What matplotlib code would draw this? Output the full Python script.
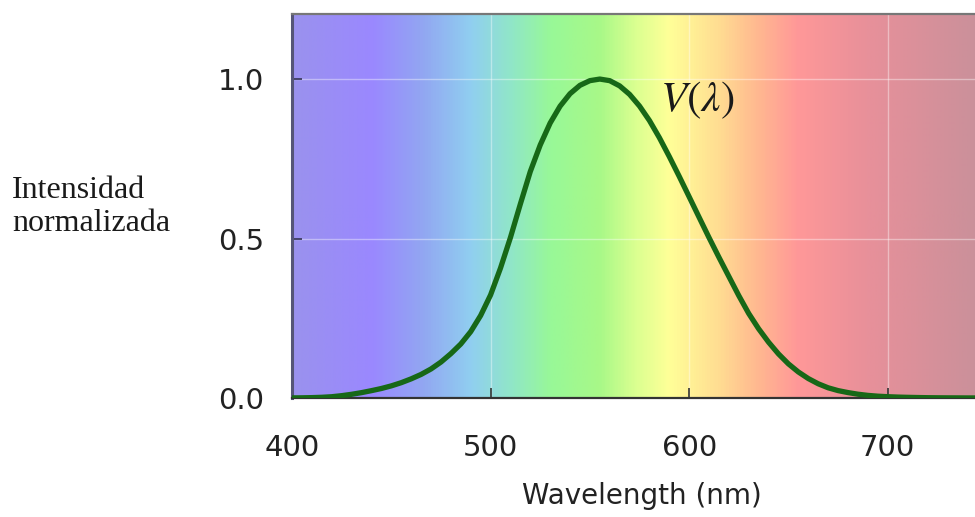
import numpy as np
import matplotlib
matplotlib.use("Agg")
import matplotlib.pyplot as plt
from matplotlib.colors import LinearSegmentedColormap

# CIE photopic luminosity function V(lambda), 5 nm steps
wl = [400, 405, 410, 415, 420, 425, 430, 435, 440, 445, 450, 455, 460, 465, 470,
      475, 480, 485, 490, 495, 500, 505, 510, 515, 520, 525, 530, 535, 540, 545,
      550, 555, 560, 565, 570, 575, 580, 585, 590, 595, 600, 605, 610, 615, 620,
      625, 630, 635, 640, 645, 650, 655, 660, 665, 670, 675, 680, 685, 690, 695,
      700, 705, 710, 715, 720, 725, 730, 735, 740, 745, 750]
v = [0.0004, 0.0006, 0.0012, 0.0022, 0.0040, 0.0073, 0.0116, 0.0168, 0.023, 0.0298,
     0.038, 0.048, 0.060, 0.0739, 0.091, 0.1126, 0.139, 0.1693, 0.208, 0.2586,
     0.323, 0.4073, 0.503, 0.6082, 0.710, 0.7932, 0.862, 0.9149, 0.954, 0.9803,
     0.995, 1.0, 0.995, 0.9786, 0.952, 0.9154, 0.870, 0.8163, 0.757, 0.6949,
     0.631, 0.5668, 0.503, 0.4412, 0.381, 0.321, 0.265, 0.217, 0.175, 0.1382,
     0.107, 0.0816, 0.061, 0.0446, 0.032, 0.0232, 0.017, 0.0119, 0.0082, 0.0057,
     0.0041, 0.0029, 0.0021, 0.0015, 0.0010, 0.0007, 0.0005, 0.0004, 0.0002, 0.0002, 0.0001]

xticks = [400, 500, 600, 700]
yticks = [0.0, 0.5, 1.0]
ytick_labels = ["0.0", "0.5", "1.0"]

# background spectrum colour stops (nm, colour)
stops_nm = [400, 440, 465, 490, 510, 530, 555, 572, 590, 615, 635, 655, 690, 750]
stops_col = ["#9a92ee", "#9a88ff", "#92a6f2", "#90cff0", "#90e6c8", "#98f898", "#a8f888",
             "#d8ff90", "#ffff98", "#ffdd92", "#ffb890", "#ff9898", "#e8909a", "#c8909a"]

x0, x1 = 400, 750
y0, y1 = 0, 1.204

plt.rcParams['mathtext.fontset'] = 'stix'

fig = plt.figure(figsize=(9.75, 5.17), dpi=100)
ax = fig.add_axes([292/975, (517-398)/517, (987-292)/975, (398-14)/517])

pos = [(s - x0) / (x1 - x0) for s in stops_nm]
cmap = LinearSegmentedColormap.from_list("spec", list(zip(pos, stops_col)))
grad = np.linspace(0, 1, 700).reshape(1, -1)
ax.imshow(grad, cmap=cmap, extent=[x0, x1, y0, y1], aspect="auto",
          interpolation="bilinear", zorder=0)

ax.grid(True, color="white", alpha=0.4, lw=1.0, zorder=1)
ax.plot(wl, v, color="#176817", lw=3.8, zorder=3, solid_capstyle="round")

ax.text(604, 0.935, r"$V(\lambda)$", fontsize=31, ha="center", va="center",
        color="#1a1a1a", zorder=4)

ax.set_xlim(x0, x1)
ax.set_ylim(y0, y1)
ax.set_xticks(xticks)
ax.set_yticks(yticks)
ax.set_yticklabels(ytick_labels)
ax.tick_params(axis="x", direction="in", length=7, width=1.2, pad=26,
               labelsize=21, colors="#333333", labelcolor="#222222")
ax.tick_params(axis="y", direction="in", length=7, width=1.2, pad=20,
               labelsize=21, colors="#333355", labelcolor="#222222")

ax.spines["left"].set_color("#555577")
ax.spines["left"].set_linewidth(2.2)
ax.spines["bottom"].set_color("#333333")
ax.spines["bottom"].set_linewidth(1.6)
ax.spines["top"].set_color("#777777")
ax.spines["top"].set_linewidth(1.6)
ax.spines["right"].set_visible(False)

fig.text(642/975, 1 - 496/517, "Wavelength (nm)", fontsize=20, ha="center",
         va="center", color="#222222")
fig.text(12/975, 1 - 207/517, "Intensidad\nnormalizada", fontsize=23,
         family="Liberation Serif", ha="left", va="center", color="#1a1a1a",
         linespacing=1.15)

fig.savefig("out.png", dpi=100, facecolor="white")
